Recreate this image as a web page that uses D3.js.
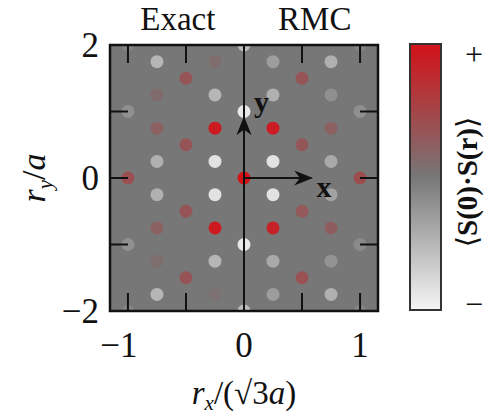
<!DOCTYPE html>
<html>
<head>
<meta charset="utf-8">
<script src="https://cdn.jsdelivr.net/npm/d3@7"></script>
<style>
  body { margin: 0; background: #fff; }
  svg text { font-family: "Liberation Serif", "DejaVu Serif", serif; fill: #111; }
</style>
</head>
<body>
<div id="viz"></div>
<script>
// lattice sites (x in units of sqrt(3)a, y in units of a) and correlation value, -1 .. +1
const exactDots = [
    {x: -1, y: 2, v: -0.1}, {x: -1, y: 1, v: -0.2}, {x: -1, y: 0, v: 0.4}, {x: -1, y: -1, v: -0.2}, {x: -1, y: -2, v: -0.1},
    {x: -0.75, y: 1.75, v: -0.5}, {x: -0.75, y: 1.25, v: 0.12}, {x: -0.75, y: 0.75, v: 0.22}, {x: -0.75, y: 0.25, v: -0.45},
    {x: -0.75, y: -0.25, v: -0.45}, {x: -0.75, y: -0.75, v: 0.22}, {x: -0.75, y: -1.25, v: 0.08}, {x: -0.75, y: -1.75, v: -0.5},
    {x: -0.5, y: 1.5, v: 0.35}, {x: -0.5, y: 0.5, v: 0.35}, {x: -0.5, y: -0.5, v: 0.35}, {x: -0.5, y: -1.5, v: 0.35},
    {x: -0.25, y: 1.75, v: 0.1}, {x: -0.25, y: 1.25, v: -0.5}, {x: -0.25, y: 0.75, v: 0.92}, {x: -0.25, y: 0.25, v: -0.85},
    {x: -0.25, y: -0.25, v: -0.85}, {x: -0.25, y: -0.75, v: 0.92}, {x: -0.25, y: -1.25, v: -0.5}, {x: -0.25, y: -1.75, v: 0.05},
    {x: 0, y: 2, v: -0.55}, {x: 0, y: 1, v: -0.9}, {x: 0, y: 0, v: 1}, {x: 0, y: -1, v: -0.9}, {x: 0, y: -2, v: -0.55}
];
const rmcDots = [
    {x: 0.25, y: 1.75, v: -0.3}, {x: 0.25, y: 1.25, v: -0.45}, {x: 0.25, y: 0.75, v: 0.9}, {x: 0.25, y: 0.25, v: -0.85},
    {x: 0.25, y: -0.25, v: -0.85}, {x: 0.25, y: -0.75, v: 0.85}, {x: 0.25, y: -1.25, v: -0.4}, {x: 0.25, y: -1.75, v: -0.3},
    {x: 0.5, y: 1.5, v: 0.35}, {x: 0.5, y: 0.5, v: 0.32}, {x: 0.5, y: -0.5, v: 0.3}, {x: 0.5, y: -1.5, v: 0.38},
    {x: 0.75, y: 1.75, v: -0.45}, {x: 0.75, y: 1.25, v: -0.2}, {x: 0.75, y: 0.75, v: 0.22}, {x: 0.75, y: 0.25, v: -0.4},
    {x: 0.75, y: -0.25, v: -0.35}, {x: 0.75, y: -0.75, v: 0.25}, {x: 0.75, y: -1.25, v: -0.22}, {x: 0.75, y: -1.75, v: -0.45},
    {x: 1, y: 2, v: -0.1}, {x: 1, y: 1, v: -0.2}, {x: 1, y: 0, v: 0.42}, {x: 1, y: -1, v: -0.15}, {x: 1, y: -2, v: -0.1}
];
const xTicks = [-1, -0.5, 0, 0.5, 1];
const yTicks = [-2, -1, 0, 1, 2];
const xTickLabels = [-1, 0, 1];
const yTickLabels = [-2, 0, 2];
const panelTitles = ["Exact", "RMC"];

const W = 485, H = 417;
const plot = {left: 110, right: 378, top: 45, bottom: 311};

const svg = d3.select("#viz").append("svg")
    .attr("width", W).attr("height", H);

const half = 2 / Math.sqrt(3);
const xScale = d3.scaleLinear().domain([-half, half]).range([plot.left, plot.right]);
const yScale = d3.scaleLinear().domain([-2, 2]).range([plot.bottom, plot.top]);
const colorScale = d3.scaleLinear()
    .domain([-1, 0, 1])
    .range(["#f5f5f5", "#777777", "#d31218"]);

const defs = svg.append("defs");
defs.append("clipPath").attr("id", "plotclip")
    .append("rect")
    .attr("x", plot.left).attr("y", plot.top)
    .attr("width", plot.right - plot.left).attr("height", plot.bottom - plot.top);

// background
svg.append("rect")
    .attr("x", plot.left).attr("y", plot.top)
    .attr("width", plot.right - plot.left).attr("height", plot.bottom - plot.top)
    .style("fill", colorScale(0));

// dots
svg.append("g")
    .attr("clip-path", "url(#plotclip)")
    .selectAll("circle")
    .data(exactDots.concat(rmcDots))
    .join("circle")
    .attr("cx", d => xScale(d.x))
    .attr("cy", d => yScale(d.y))
    .attr("r", 6.5)
    .style("fill", d => colorScale(d.v));

// ticks (inside, all four sides)
const tickLen = 18;
const ticks = svg.append("g").style("stroke", "#111").style("stroke-width", 2);
xTicks.filter(t => t !== 0).forEach(t => {
    ticks.append("line").attr("x1", xScale(t)).attr("x2", xScale(t))
        .attr("y1", plot.top).attr("y2", plot.top + tickLen);
    ticks.append("line").attr("x1", xScale(t)).attr("x2", xScale(t))
        .attr("y1", plot.bottom).attr("y2", plot.bottom - tickLen);
});
yTicks.filter(t => Math.abs(t) !== 2).forEach(t => {
    ticks.append("line").attr("y1", yScale(t)).attr("y2", yScale(t))
        .attr("x1", plot.left).attr("x2", plot.left + tickLen);
    ticks.append("line").attr("y1", yScale(t)).attr("y2", yScale(t))
        .attr("x1", plot.right).attr("x2", plot.right - tickLen);
});

// divider between Exact and RMC
svg.append("line")
    .attr("x1", xScale(0)).attr("x2", xScale(0))
    .attr("y1", plot.top).attr("y2", plot.bottom)
    .style("stroke", "#111").style("stroke-width", 2);

// frame
svg.append("rect")
    .attr("x", plot.left).attr("y", plot.top)
    .attr("width", plot.right - plot.left).attr("height", plot.bottom - plot.top)
    .style("fill", "none").style("stroke", "#111").style("stroke-width", 2.5);

// x / y arrows
defs.append("marker").attr("id", "arrow")
    .attr("viewBox", "0 0 10 10").attr("refX", 9).attr("refY", 5)
    .attr("markerWidth", 19).attr("markerHeight", 19)
    .attr("markerUnits", "userSpaceOnUse")
    .attr("orient", "auto")
    .append("path").attr("d", "M0,1 L10,5 L0,9 L3,5 Z").style("fill", "#111");

svg.append("line")
    .attr("x1", xScale(0)).attr("y1", yScale(0))
    .attr("x2", xScale(0.58)).attr("y2", yScale(0))
    .style("stroke", "#111").style("stroke-width", 2)
    .attr("marker-end", "url(#arrow)");
svg.append("line")
    .attr("x1", xScale(0)).attr("y1", yScale(0))
    .attr("x2", xScale(0)).attr("y2", yScale(0.9))
    .style("stroke", "#111").style("stroke-width", 2)
    .attr("marker-end", "url(#arrow)");
svg.append("text").attr("x", xScale(0.69)).attr("y", yScale(-0.28))
    .attr("text-anchor", "middle")
    .style("font-size", "30px").style("font-weight", "bold").text("x");
svg.append("text").attr("x", xScale(0.15)).attr("y", yScale(1.0))
    .attr("text-anchor", "middle")
    .style("font-size", "30px").style("font-weight", "bold").text("y");

// panel titles
svg.selectAll(".title").data(panelTitles).join("text")
    .attr("class", "title")
    .attr("x", (d, i) => xScale(i === 0 ? -0.57 : 0.61))
    .attr("y", 30)
    .attr("text-anchor", "middle")
    .style("font-size", "33px")
    .text(d => d);

// tick labels
svg.selectAll(".xtl").data(xTickLabels).join("text")
    .attr("class", "xtl")
    .attr("x", d => xScale(d) - (d < 0 ? 9 : 0))
    .attr("y", 357)
    .attr("text-anchor", "middle")
    .style("font-size", "35px")
    .text(d => d < 0 ? "\u2212" + Math.abs(d) : d);
svg.selectAll(".ytl").data(yTickLabels).join("text")
    .attr("class", "ytl")
    .attr("x", 99)
    .attr("y", d => yScale(d) + 12)
    .attr("text-anchor", "end")
    .style("font-size", "35px")
    .text(d => d < 0 ? "\u2212" + Math.abs(d) : d);

// axis titles
const xt = svg.append("text").attr("x", xScale(0)).attr("y", 404)
    .attr("text-anchor", "middle").style("font-size", "33px");
xt.append("tspan").style("font-style", "italic").text("r");
xt.append("tspan").style("font-style", "italic").style("font-size", "21px").attr("dy", 6).text("x");
xt.append("tspan").attr("dy", -6).text("/(\u221A3");
xt.append("tspan").style("font-style", "italic").text("a");
xt.append("tspan").text(")");

const yt = svg.append("text")
    .attr("transform", `translate(45,${yScale(0)}) rotate(-90)`)
    .attr("text-anchor", "middle").style("font-size", "34px");
yt.append("tspan").style("font-style", "italic").text("r");
yt.append("tspan").style("font-style", "italic").style("font-size", "21px").attr("dy", 7).text("y");
yt.append("tspan").attr("dy", -7).text("/");
yt.append("tspan").style("font-style", "italic").text("a");

// colorbar
const cb = {x: 410, y: 44, w: 31, h: 266};
const grad = defs.append("linearGradient").attr("id", "cbgrad")
    .attr("x1", 0).attr("x2", 0).attr("y1", 1).attr("y2", 0);
[-1, 0, 1].forEach(v => {
    grad.append("stop").attr("offset", (v + 1) / 2).attr("stop-color", colorScale(v));
});
svg.append("rect")
    .attr("x", cb.x).attr("y", cb.y).attr("width", cb.w).attr("height", cb.h)
    .style("fill", "url(#cbgrad)").style("stroke", "#333").style("stroke-width", 2);
svg.append("text").attr("x", 474).attr("y", 65).attr("text-anchor", "middle")
    .style("font-size", "32px").text("+");
svg.append("text").attr("x", 474).attr("y", 315).attr("text-anchor", "middle")
    .style("font-size", "32px").text("\u2212");
const cbl = svg.append("text")
    .attr("transform", `translate(477,182) rotate(-90)`)
    .attr("text-anchor", "middle").style("font-size", "29px");
cbl.append("tspan").text("\u27E8");
cbl.append("tspan").style("font-weight", "bold").text("S");
cbl.append("tspan").style("font-weight", "bold").text("(0)\u00B7");
cbl.append("tspan").style("font-weight", "bold").text("S");
cbl.append("tspan").style("font-weight", "bold").text("(");
cbl.append("tspan").style("font-weight", "bold").text("r");
cbl.append("tspan").style("font-weight", "bold").text(")");
cbl.append("tspan").text("\u27E9");
</script>
</body>
</html>
